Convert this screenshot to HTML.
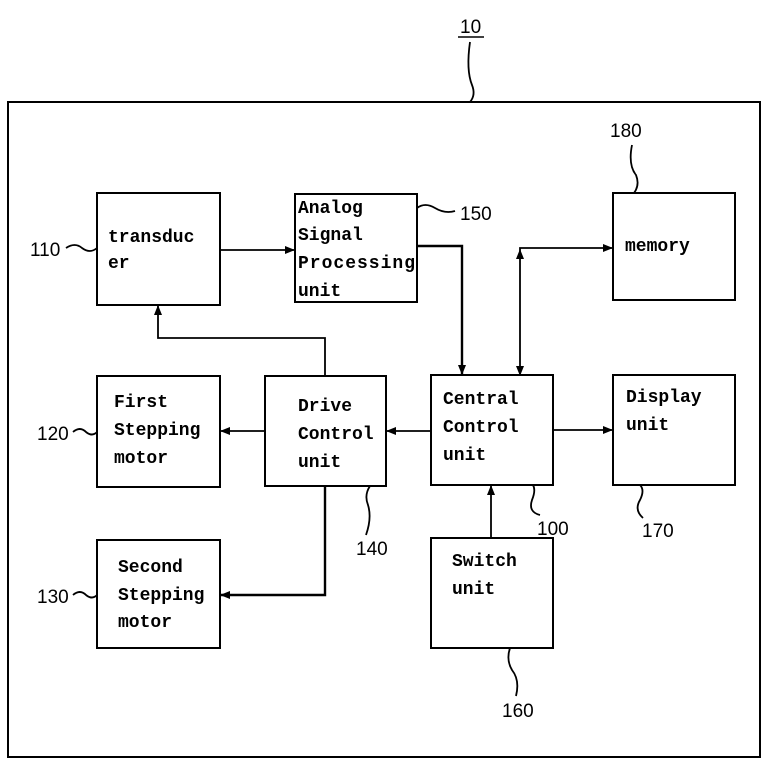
<!DOCTYPE html>
<html><head><style>
body{margin:0;background:#fff;}
svg{display:block}
.b{fill:#fff;stroke:#000;stroke-width:2}
.t{font-family:"Liberation Mono",monospace;font-size:18px;font-weight:bold;fill:#000}
.n{font-family:"Liberation Sans",sans-serif;font-size:19px;fill:#000}
.l{fill:none;stroke:#000;stroke-width:1.8}
</style></head><body>
<svg width="768" height="771" viewBox="0 0 768 771">
<defs><marker id="a" markerWidth="10" markerHeight="8" refX="9" refY="4" orient="auto" markerUnits="userSpaceOnUse"><path d="M0,0 L10,4 L0,8z" fill="#000"/></marker></defs>
<text class="n" x="460" y="33">10</text>
<line x1="458" y1="37" x2="484" y2="37" stroke="#000" stroke-width="1.5"/>
<path class="l" d="M470,42 Q466,70 472,85 Q476,95 470,102"/>
<rect x="8" y="102" width="752" height="655" fill="none" stroke="#000" stroke-width="2"/>

<rect class="b" x="97" y="193" width="123" height="112"/>
<text class="t" x="108" y="242">transduc</text><text class="t" x="108" y="268">er</text>
<rect class="b" x="295" y="194" width="122" height="108"/>
<text class="t" x="298" y="213">Analog</text><text class="t" x="298" y="240">Signal</text><text class="t" x="298" y="268" textLength="117">Processing</text><text class="t" x="298" y="296">unit</text>
<rect class="b" x="613" y="193" width="122" height="107"/>
<text class="t" x="625" y="251">memory</text>
<rect class="b" x="97" y="376" width="123" height="111"/>
<text class="t" x="114" y="407">First</text><text class="t" x="114" y="435">Stepping</text><text class="t" x="114" y="463">motor</text>
<rect class="b" x="265" y="376" width="121" height="110"/>
<text class="t" x="298" y="411">Drive</text><text class="t" x="298" y="439">Control</text><text class="t" x="298" y="467">unit</text>
<rect class="b" x="431" y="375" width="122" height="110"/>
<text class="t" x="443" y="404">Central</text><text class="t" x="443" y="432">Control</text><text class="t" x="443" y="460">unit</text>
<rect class="b" x="613" y="375" width="122" height="110"/>
<text class="t" x="626" y="402">Display</text><text class="t" x="626" y="430">unit</text>
<rect class="b" x="97" y="540" width="123" height="108"/>
<text class="t" x="118" y="572">Second</text><text class="t" x="118" y="600">Stepping</text><text class="t" x="118" y="627">motor</text>
<rect class="b" x="431" y="538" width="122" height="110"/>
<text class="t" x="452" y="566">Switch</text><text class="t" x="452" y="594">unit</text>

<line class="l" x1="220" y1="250" x2="294" y2="250" marker-end="url(#a)"/>
<polyline class="l" points="417,246 462,246 462,374" marker-end="url(#a)" style="stroke-width:2.4"/>
<polyline class="l" points="520,374 520,248 612,248" marker-end="url(#a)"/>
<path d="M516,259 L520,249 L524,259z" fill="#000"/>
<path d="M516,366 L520,376 L524,366z" fill="#000"/>
<polyline class="l" points="325,376 325,338 158,338 158,306" marker-end="url(#a)"/>
<line class="l" x1="265" y1="431" x2="221" y2="431" marker-end="url(#a)"/>
<line class="l" x1="431" y1="431" x2="387" y2="431" marker-end="url(#a)"/>
<line class="l" x1="553" y1="430" x2="612" y2="430" marker-end="url(#a)"/>
<polyline class="l" points="325,486 325,595 221,595" marker-end="url(#a)" style="stroke-width:2.4"/>
<line class="l" x1="491" y1="538" x2="491" y2="486" marker-end="url(#a)"/>

<text class="n" x="30" y="256">110</text><path class="l" d="M66,248 Q75,242 82,248 Q90,254 97,248"/>
<text class="n" x="460" y="220">150</text><path class="l" d="M417,208 Q425,202 435,208 Q445,214 455,211"/>
<text class="n" x="610" y="137">180</text><path class="l" d="M632,145 Q628,165 636,175 Q640,185 634,193"/>
<text class="n" x="37" y="440">120</text><path class="l" d="M73,432 Q80,426 86,432 Q92,437 97,432"/>
<text class="n" x="37" y="603">130</text><path class="l" d="M73,595 Q80,589 86,595 Q92,600 97,595"/>
<text class="n" x="356" y="555">140</text><path class="l" d="M366,535 Q372,518 368,505 Q364,495 370,486"/>
<text class="n" x="537" y="535">100</text><path class="l" d="M540,515 Q528,512 532,500 Q536,490 533,485"/>
<text class="n" x="642" y="537">170</text><path class="l" d="M643,518 Q634,510 640,500 Q645,490 640,485"/>
<text class="n" x="502" y="717">160</text><path class="l" d="M516,696 Q520,680 512,670 Q506,660 510,648"/>
</svg>
</body></html>
